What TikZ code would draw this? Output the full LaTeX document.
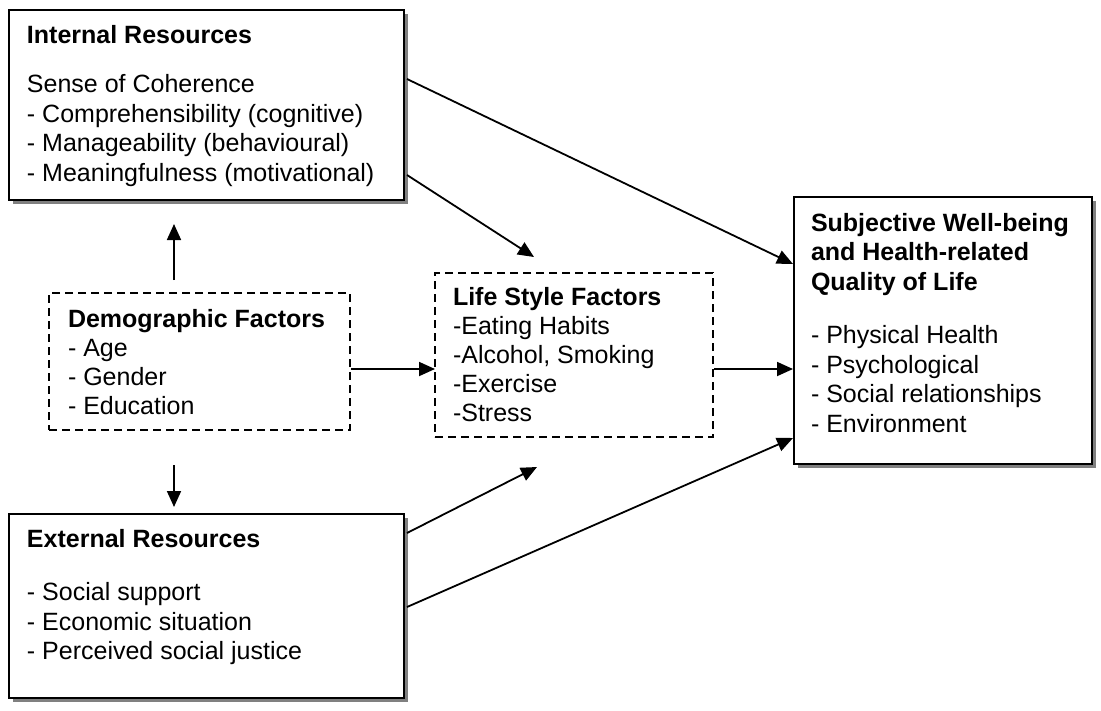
\documentclass[tikz,border=0pt]{standalone}
\usepackage{fontspec}
\setmainfont{Liberation Sans}
\usetikzlibrary{arrows.meta,shadows}
\begin{document}
\begin{tikzpicture}[x=1pt,y=-1pt,
  frame/.style={draw=black,line width=1.8pt,fill=white,inner sep=0pt,outer sep=0pt,anchor=north west,
    drop shadow={shadow xshift=4pt,shadow yshift=-4pt,fill=black!50,opacity=1}},
  dframe/.style={draw=black,line width=1.6pt,dash pattern=on 8pt off 5pt,fill=white,inner sep=0pt,outer sep=0pt,anchor=north west},
  txt/.style={inner sep=0pt,outer sep=0pt,anchor=north west,align=left,font=\fontsize{25}{29.5}\selectfont},
  arr/.style={line width=1.8pt,-{Triangle[length=16pt,width=14pt]}}]
\useasboundingbox[fill=white] (0,0) rectangle (1101,710);

% boxes
\node[frame,minimum width=395pt,minimum height=190pt] (intbox) at (9,10) {};
\node[frame,minimum width=395pt,minimum height=184pt] (extbox) at (9,514) {};
\node[frame,minimum width=298pt,minimum height=267pt] (swbbox) at (794,197) {};
\node[dframe,minimum width=301pt,minimum height=137pt] (demobox) at (49,293) {};
\node[dframe,minimum width=278pt,minimum height=164pt] (lifebox) at (435,273) {};

% texts
\node[txt] (intT) at (27,24) {\rule{0pt}{19pt}\textbf{Internal Resources}\\[20pt]
  Sense of Coherence\\
  - Comprehensibility (cognitive)\\
  - Manageability (behavioural)\\
  - Meaningfulness (motivational)};
\node[txt] (extT) at (27,528) {\rule{0pt}{19pt}\textbf{External Resources}\\[24pt]
  - Social support\\
  - Economic situation\\
  - Perceived social justice};
\node[txt] (swbT) at (811,212) {\rule{0pt}{19pt}\textbf{Subjective Well-being}\\
  \textbf{and Health-related}\\
  \textbf{Quality of Life}\\[24pt]
  - Physical Health\\
  - Psychological\\
  - Social relationships\\
  - Environment};
\node[txt,font=\fontsize{25}{29}\selectfont] (demoT) at (68,308) {\rule{0pt}{19pt}\textbf{Demographic Factors}\\
  - Age\\
  - Gender\\
  - Education};
\node[txt,font=\fontsize{25}{29}\selectfont] (lifeT) at (453,286) {\rule{0pt}{19pt}\textbf{Life Style Factors}\\
  -Eating Habits\\
  -Alcohol, Smoking\\
  -Exercise\\
  -Stress};

% connector end points
\coordinate (i1) at (407,79);
\coordinate (s1) at (793,264);
\coordinate (i2) at (407,175);
\coordinate (l1) at (534,257);
\coordinate (du) at (174,280);
\coordinate (iu) at (174,224);
\coordinate (dd) at (174,465);
\coordinate (ed) at (174,507);
\coordinate (d1) at (351,369);
\coordinate (l2) at (435,369);
\coordinate (l3) at (714,369);
\coordinate (s2) at (793,369);
\coordinate (e1) at (407,533);
\coordinate (l4) at (537,467);
\coordinate (e2) at (407,607);
\coordinate (s3) at (793,438);

\draw[arr] (i1) -- (s1);
\draw[arr] (i2) -- (l1);
\draw[arr] (du) -- (iu);
\draw[arr] (dd) -- (ed);
\draw[arr] (d1) -- (l2);
\draw[arr] (l3) -- (s2);
\draw[arr] (e1) -- (l4);
\draw[arr] (e2) -- (s3);
\end{tikzpicture}
\end{document}
